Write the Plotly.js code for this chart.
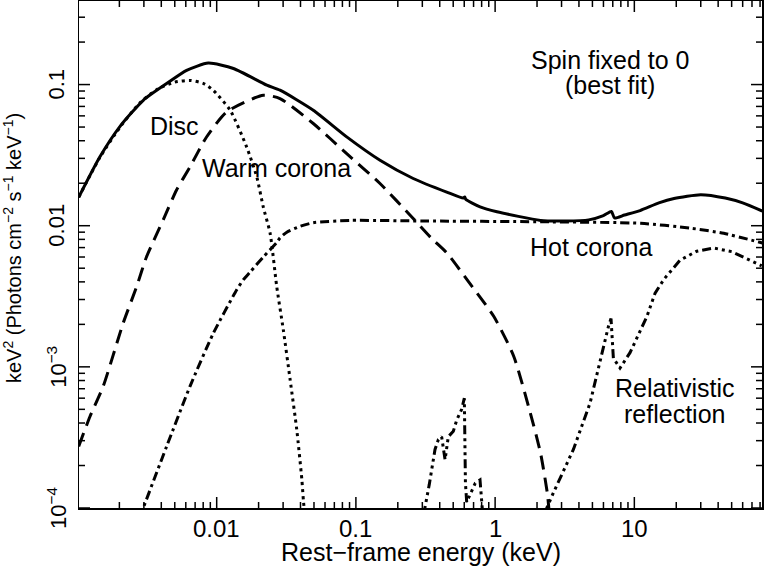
<!DOCTYPE html>
<html>
<head>
<meta charset="utf-8">
<script src="https://cdn.plot.ly/plotly-3.0.1.min.js"></script>
<style>
body { margin: 0; background: #fff; }
#myPlot { width: 764px; height: 569px; }
</style>
</head>
<body>
<div id="myPlot"></div>
<script>

// energies in keV, fluxes in keV^2 (Photons cm^-2 s^-1 keV^-1)

// total model (solid)
var totalE = [0.00102, 0.00145, 0.00201, 0.00297, 0.00437, 0.00608, 0.0087, 0.0132, 0.0229, 0.0285,
              0.0494, 0.0859, 0.149, 0.258, 0.449, 0.59, 0.605, 0.615, 0.78, 1.03,
              2.12, 3.2, 4.7, 6.0, 6.85, 7.2, 8.5, 11, 15, 19.3,
              30, 45, 60, 83]
var totalF = [0.0159, 0.0308, 0.0502, 0.0774, 0.1016, 0.126, 0.142, 0.130, 0.099, 0.0912,
              0.0658, 0.0426, 0.0291, 0.0216, 0.0173, 0.0157, 0.0160, 0.0154, 0.0136, 0.01256,
              0.0109, 0.0108, 0.0110, 0.0118, 0.0126, 0.01135, 0.0119, 0.0128, 0.0145, 0.0156,
              0.0166, 0.0157, 0.0145, 0.0127]

// disc (dotted)
var discE = [0.00102, 0.00145, 0.00201, 0.0028, 0.0037, 0.0050, 0.00643, 0.0080, 0.00946, 0.0125,
             0.0164, 0.0194, 0.0216, 0.0242, 0.027, 0.0301, 0.0337, 0.0376, 0.0409, 0.042, 0.0435]
var discF = [0.0159, 0.0305, 0.0495, 0.0740, 0.092, 0.104, 0.107, 0.102, 0.091, 0.0658,
             0.0362, 0.0222, 0.0136, 0.00883, 0.0037, 0.00183, 0.00081, 0.000359, 0.000159, 0.000112, 0.00008]

// warm corona (dashed)
var warmE = [0.00102, 0.00123, 0.00153, 0.00213, 0.00266, 0.00313, 0.00413, 0.00515, 0.00643, 0.00848,
             0.0118, 0.0216, 0.0285, 0.0494, 0.0859, 0.149, 0.258, 0.351, 0.452, 0.63,
             0.977, 1.36, 1.79, 2.12, 2.37, 2.43, 2.5]
var warmF = [0.000273, 0.000445, 0.000727, 0.00204, 0.0037, 0.006, 0.011, 0.0179, 0.0261, 0.0427,
             0.064, 0.084, 0.0796, 0.053, 0.0324, 0.0199, 0.01125, 0.0081, 0.00638, 0.00413,
             0.00228, 0.00119, 0.000471, 0.000245, 0.000128, 0.0001, 0.00007]

// hot corona (dash-dot)
var hotE = [0.0028, 0.00297, 0.00437, 0.00643, 0.00946, 0.0139, 0.0155, 0.0174, 0.0216, 0.027,
            0.0285, 0.0319, 0.0398, 0.0494, 0.09, 0.3, 2.12, 11.1, 25.4, 43.9, 85]
var hotF = [0.000085, 0.0001, 0.000273, 0.000727, 0.00173, 0.0035, 0.00413, 0.0047, 0.006, 0.0076,
            0.0082, 0.0090, 0.0099, 0.0105, 0.0109, 0.0108, 0.01066, 0.0104, 0.0096, 0.00883, 0.0075]

// relativistic reflection (dash-dot-dot-dot)
var reflE = [0.30, 0.3135, 0.3366, 0.370, 0.391, 0.413, 0.437, 0.461, 0.501, 0.530,
             0.575, 0.601, 0.612, 0.625, 0.65, 0.679, 0.72, 0.779, 0.80, 0.815, null,
             2.3, 2.35, 2.62, 3.65, 4.81, 5.67, 6.51, 6.8, 7.07, 7.89,
             9.31, 12.3, 14.1, 16.4, 21.3, 28.1, 37.0, 50, 66, 82.2]
var reflF = [0.00008, 0.0001, 0.000147, 0.00026, 0.000305, 0.00032, 0.00022, 0.00032, 0.00035, 0.00042,
             0.0005, 0.0006, 0.00015, 0.00011, 0.00012, 0.000135, 0.00015, 0.000158, 0.00012, 0.00009, null,
             0.00009, 0.0001, 0.000128, 0.00026, 0.000555, 0.00112, 0.00193, 0.0022, 0.00115, 0.00098,
             0.00126, 0.00227, 0.00333, 0.0042, 0.0057, 0.0066, 0.00695, 0.00655, 0.0058, 0.0052]

var xTickVals = [0.01, 0.1, 1, 10]
var xTickText = ['0.01', '0.1', '1', '10']
var yTickVals = [0.0001, 0.001, 0.01, 0.1]
var yTickText = ['10<sup>\u22124</sup>', '10<sup>\u22123</sup>', '0.01', '0.1']

var xRange = [-2.989, 1.917]
var yRange = [-4, -0.408]

// plot box size in px (764 - 79 - 2, 569 - 1 - 61)
var boxW = 683
var boxH = 507

function line(x, y, dash, shape) {
    return {
        x: x,
        y: y,
        mode: 'lines',
        type: 'scatter',
        connectgaps: false,
        hoverinfo: 'skip',
        line: {color: '#000', width: 3, dash: dash, shape: shape, smoothing: 0.6}
    }
}

// inside ticks on all four sides (major 11 px, minor 6 px), built from the axis ranges
function tickTrace() {
    var xs = [], ys = []
    var yBot = Math.pow(10, yRange[0]), yTop = Math.pow(10, yRange[1])
    var xL = Math.pow(10, xRange[0]), xR = Math.pow(10, xRange[1])
    var dexY = (yRange[1] - yRange[0]) / boxH
    var dexX = (xRange[1] - xRange[0]) / boxW
    for (var k = -3; k <= 1; k++) {
        for (var m = 1; m <= 9; m++) {
            var v = m * Math.pow(10, k)
            if (v < xL || v > xR) continue
            var f = Math.pow(10, (m === 1 ? 11 : 6) * dexY)
            xs.push(v, v, null, v, v, null)
            ys.push(yBot, yBot * f, null, yTop, yTop / f, null)
        }
    }
    for (var j = -4; j <= -1; j++) {
        for (var n = 1; n <= 9; n++) {
            var w = n * Math.pow(10, j)
            if (w < yBot || w > yTop) continue
            var g = Math.pow(10, (n === 1 ? 11 : 6) * dexX)
            xs.push(xL, xL * g, null, xR, xR / g, null)
            ys.push(w, w, null, w, w, null)
        }
    }
    return {x: xs, y: ys, mode: 'lines', type: 'scatter', hoverinfo: 'skip',
            connectgaps: false, line: {color: '#000', width: 1.5}}
}

var plotData = [
    line(totalE, totalF, 'solid', 'spline'),
    line(discE, discF, '3px,4px', 'spline'),
    line(warmE, warmF, '14px,8px', 'spline'),
    line(hotE, hotF, '9px,4px,3px,4px', 'spline'),
    line(reflE, reflF, '9px,4px,3px,4px,3px,4px,3px,4px', 'linear'),
    tickTrace()
]

function font(size) {
    return {family: 'Liberation Sans, Arial, sans-serif', size: size, color: '#000'}
}

function label(text, x, y, size, angle) {
    return {
        text: text, xref: 'paper', yref: 'paper', x: x, y: y,
        xanchor: 'center', yanchor: 'middle', showarrow: false,
        textangle: angle || 0, font: font(size)
    }
}

// fraction of the axis where a log value sits
function frac(v, range) {
    return (Math.log10(v) - range[0]) / (range[1] - range[0])
}

var notes = [
    label('Disc', 0.1398, 0.7535, 25),
    label('Warm corona', 0.289, 0.6706, 25),
    label('Spin fixed to 0', 0.778, 0.8836, 25),
    label('(best fit)', 0.7775, 0.8343, 25),
    label('Hot corona', 0.7496, 0.5148, 25),
    label('Relativistic', 0.8726, 0.2367, 25),
    label('reflection', 0.8712, 0.1854, 25),
    label('Rest\u2212frame energy (keV)', 0.5, -44 / boxH, 25),
    label('keV<sup>2</sup> (Photons cm<sup>\u22122</sup> s<sup>\u22121</sup> keV<sup>\u22121</sup>)', -0.098, 0.5128, 20, -90)
]
// tick labels: x labels centred 20 px under the box, y labels 22 px left of it
xTickVals.forEach(function (v, i) {
    notes.push(label(xTickText[i], frac(v, xRange), -20 / boxH, 24))
})
yTickVals.forEach(function (v, i) {
    notes.push(label(yTickText[i], -22 / boxW, frac(v, yRange), 22, -90))
})

var axisCommon = {
    type: 'log',
    showgrid: false,
    zeroline: false,
    showline: true,
    linecolor: '#000',
    linewidth: 1.5,
    mirror: true,
    ticks: '',
    showticklabels: false
}

var layout = {
    width: 764,
    height: 569,
    margin: {l: 79, r: 2, t: 1, b: 61},
    paper_bgcolor: '#fff',
    plot_bgcolor: '#fff',
    showlegend: false,
    xaxis: Object.assign({}, axisCommon, {range: xRange}),
    yaxis: Object.assign({}, axisCommon, {range: yRange}),
    annotations: notes
}

Plotly.newPlot('myPlot', plotData, layout, {displayModeBar: false, staticPlot: true})

</script>
</body>
</html>
